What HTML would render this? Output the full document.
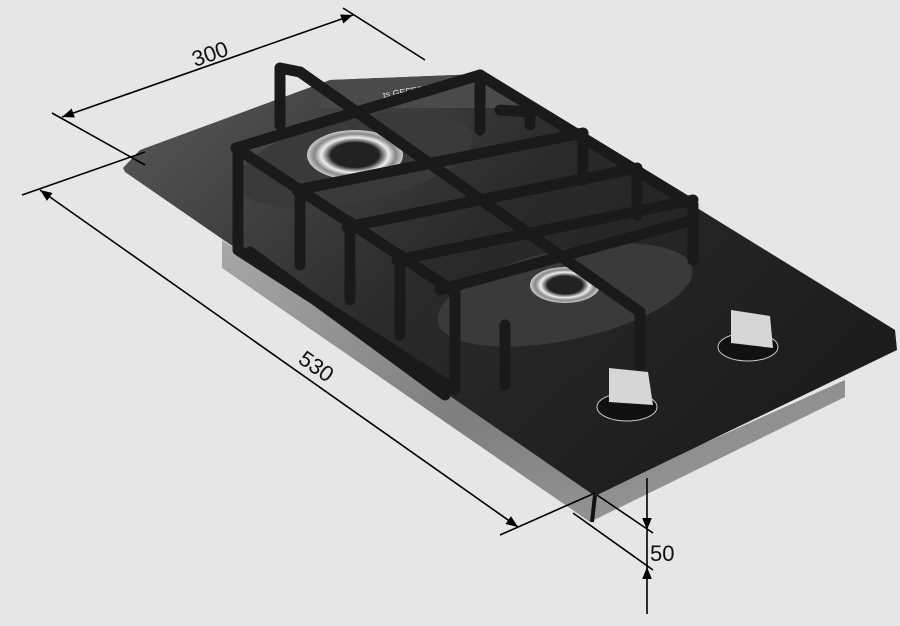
<!DOCTYPE html>
<html><head><meta charset="utf-8"><style>
html,body{margin:0;padding:0;background:#e6e6e6;}
svg{display:block}
text{font-family:"Liberation Sans",sans-serif;fill:#111}
</style></head><body>
<svg width="900" height="626" viewBox="0 0 900 626" xmlns="http://www.w3.org/2000/svg">
<defs>
<linearGradient id="steel" x1="0" y1="0" x2="1" y2="1">
<stop offset="0" stop-color="#a8a8a8"/><stop offset="0.5" stop-color="#7e7e7e"/><stop offset="1" stop-color="#a0a0a0"/>
</linearGradient>
<linearGradient id="glass" x1="0" y1="0" x2="1" y2="0.6">
<stop offset="0" stop-color="#5a5a5a"/><stop offset="0.5" stop-color="#2a2a2a"/><stop offset="1" stop-color="#1c1c1c"/>
</linearGradient>
<radialGradient id="ring"><stop offset="0.5" stop-color="#222"/><stop offset="0.7" stop-color="#eee"/><stop offset="0.85" stop-color="#888"/><stop offset="1" stop-color="#ccc"/></radialGradient>
<marker id="ar" viewBox="0 0 10 10" refX="10" refY="5" markerWidth="12" markerHeight="12" orient="auto-start-reverse" markerUnits="userSpaceOnUse"><path d="M0,1 L10,5 L0,9 Z" fill="#000"/></marker>
</defs>
<polygon points="222,240 222,268 590,522 845,397 845,380 600,490" fill="url(#steel)"/>
<line x1="595" y1="495" x2="592" y2="522" stroke="#111" stroke-width="4"/>
<polygon points="123,168 140,150 330,80 480,74 895,330 897,350 595,496 125,172" fill="url(#glass)"/>
<polygon points="330,80 480,74 530,108 320,108" fill="#4a4a4a"/>
<text x="383" y="98" font-size="9" style="fill:#ddd" transform="rotate(-8 383 98)">ɪs GEFEST</text>
<ellipse cx="355" cy="160" rx="120" ry="42" fill="#3a3a3a" transform="rotate(-12 355 160)"/>
<ellipse cx="565" cy="295" rx="130" ry="45" fill="#3a3a3a" transform="rotate(-12 565 295)"/>
<ellipse cx="355" cy="155" rx="48" ry="25" fill="url(#ring)"/>
<ellipse cx="565" cy="285" rx="35" ry="18" fill="url(#ring)"/>
<g stroke="#1a1a1a" stroke-width="11" fill="none" stroke-linecap="round" stroke-linejoin="round">
<path d="M238,150 L238,250 L455,390"/>
<path d="M250,252 L445,395"/>
<path d="M300,190 L300,265"/>
<path d="M350,222 L350,300"/>
<path d="M400,255 L400,335"/>
<path d="M455,292 L455,385"/>
<path d="M505,325 L505,385"/>
<path d="M640,312 L640,395"/>
<path d="M693,205 L693,260"/>
<path d="M637,170 L637,215"/>
<path d="M583,135 L583,180"/>
<path d="M280,68 L280,125 M280,68 L300,72"/>
<path d="M480,75 L480,130"/>
<path d="M236,148 L480,75"/>
<path d="M297,190 L583,133"/>
<path d="M347,227 L637,168"/>
<path d="M397,260 L693,200"/>
<path d="M440,290 L693,220"/>
<path d="M300,72 L640,312"/>
<path d="M236,148 L455,292"/>
<path d="M480,75 L693,205"/>
<path d="M500,110 L530,112 L530,125"/>
</g>
<ellipse cx="627" cy="407" rx="30" ry="14" fill="#111" stroke="#ccc" stroke-width="1"/>
<path d="M609,368 L648,372 L653,405 L609,402 Z" fill="#d6d6d6"/>
<ellipse cx="748" cy="347" rx="30" ry="14" fill="#111" stroke="#ccc" stroke-width="1"/>
<path d="M731,310 L770,316 L773,348 L731,343 Z" fill="#d6d6d6"/>
<g stroke="#000" stroke-width="1.6" fill="none">
<line x1="62" y1="117" x2="353" y2="15" marker-start="url(#ar)" marker-end="url(#ar)"/>
<line x1="52" y1="113" x2="145" y2="165"/>
<line x1="343" y1="8" x2="425" y2="60"/>
<line x1="40" y1="190" x2="518" y2="527" marker-start="url(#ar)" marker-end="url(#ar)"/>
<line x1="22" y1="195" x2="145" y2="152"/>
<line x1="500" y1="535" x2="595" y2="493"/>
<line x1="597" y1="495" x2="653" y2="533"/>
<line x1="573" y1="513" x2="653" y2="570"/>
<line x1="647" y1="478" x2="647" y2="530" marker-end="url(#ar)"/>
<line x1="647" y1="614" x2="647" y2="567" marker-end="url(#ar)"/>
<line x1="647" y1="530" x2="647" y2="567"/>
</g>
<text x="195" y="67" font-size="22" transform="rotate(-19 195 67)">300</text>
<text x="297" y="362" font-size="22" transform="rotate(35 297 362)">530</text>
<text x="650" y="561" font-size="22">50</text>
</svg>
</body></html>
